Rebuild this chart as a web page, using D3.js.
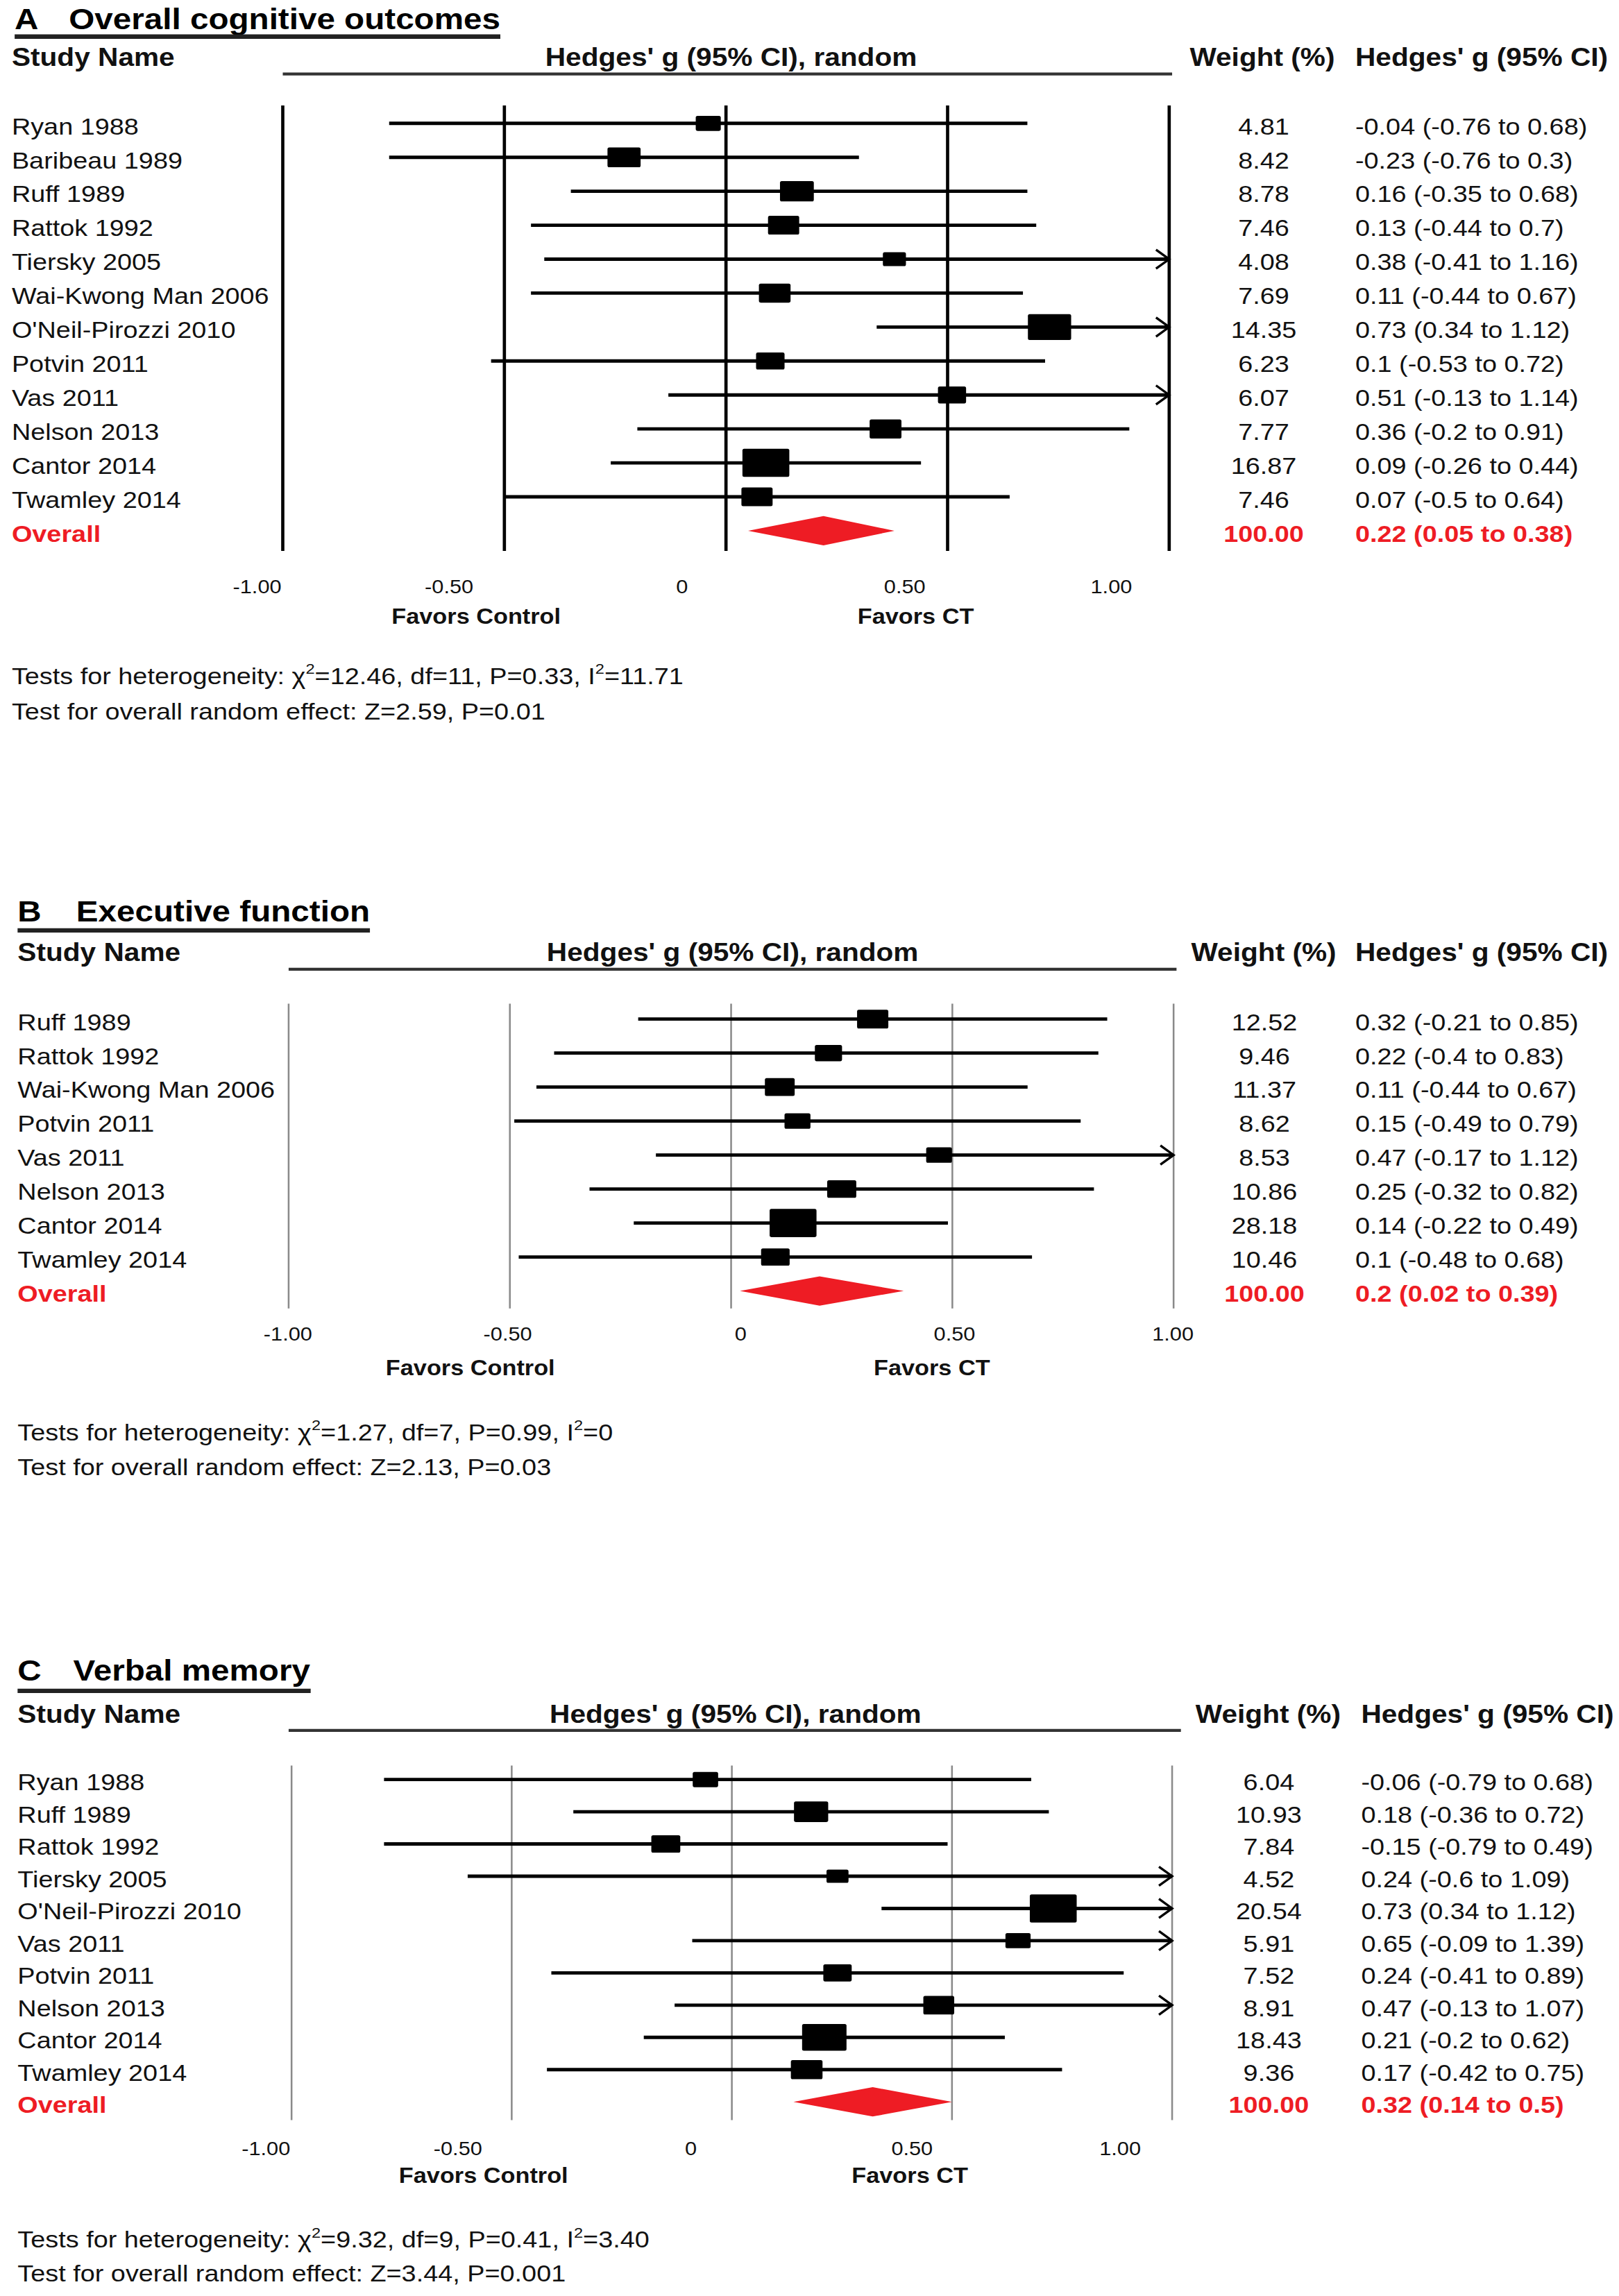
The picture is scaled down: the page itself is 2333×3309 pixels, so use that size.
<!DOCTYPE html>
<html><head><meta charset="utf-8">
<script src="https://cdn.jsdelivr.net/npm/d3@7"></script>
<style>html,body{margin:0;padding:0;background:#fff;} svg{display:block}</style>
</head><body>
<svg id="chart"></svg>
<script>
// ---------------- DATA ----------------
const tickValues = [-1, -0.5, 0, 0.5, 1];
const tickLabels = ["-1.00", "-0.50", "0", "0.50", "1.00"];

// Panel A: Overall cognitive outcomes
const studiesA = ["Ryan 1988","Baribeau 1989","Ruff 1989","Rattok 1992","Tiersky 2005","Wai-Kwong Man 2006","O'Neil-Pirozzi 2010","Potvin 2011","Vas 2011","Nelson 2013","Cantor 2014","Twamley 2014"];
const weightsA = [4.81, 8.42, 8.78, 7.46, 4.08, 7.69, 14.35, 6.23, 6.07, 7.77, 16.87, 7.46];
const gA  = [-0.04, -0.23, 0.16, 0.13, 0.38, 0.11, 0.73, 0.1, 0.51, 0.36, 0.09, 0.07];
const loA = [-0.76, -0.76, -0.35, -0.44, -0.41, -0.44, 0.34, -0.53, -0.13, -0.2, -0.26, -0.5];
const hiA = [0.68, 0.3, 0.68, 0.7, 1.16, 0.67, 1.12, 0.72, 1.14, 0.91, 0.44, 0.64];
const overallA = [100.00, 0.22, 0.05, 0.38];   // weight, g, lo, hi
const hetA = ["12.46", "11", "0.33", "11.71"]; // chi2, df, P, I2
const testA = ["2.59", "0.01"];                // Z, P

// Panel B: Executive function
const studiesB = ["Ruff 1989","Rattok 1992","Wai-Kwong Man 2006","Potvin 2011","Vas 2011","Nelson 2013","Cantor 2014","Twamley 2014"];
const weightsB = [12.52, 9.46, 11.37, 8.62, 8.53, 10.86, 28.18, 10.46];
const gB  = [0.32, 0.22, 0.11, 0.15, 0.47, 0.25, 0.14, 0.1];
const loB = [-0.21, -0.4, -0.44, -0.49, -0.17, -0.32, -0.22, -0.48];
const hiB = [0.85, 0.83, 0.67, 0.79, 1.12, 0.82, 0.49, 0.68];
const overallB = [100.00, 0.2, 0.02, 0.39];
const hetB = ["1.27", "7", "0.99", "0"];
const testB = ["2.13", "0.03"];

// Panel C: Verbal memory
const studiesC = ["Ryan 1988","Ruff 1989","Rattok 1992","Tiersky 2005","O'Neil-Pirozzi 2010","Vas 2011","Potvin 2011","Nelson 2013","Cantor 2014","Twamley 2014"];
const weightsC = [6.04, 10.93, 7.84, 4.52, 20.54, 5.91, 7.52, 8.91, 18.43, 9.36];
const gC  = [-0.06, 0.18, -0.15, 0.24, 0.73, 0.65, 0.24, 0.47, 0.21, 0.17];
const loC = [-0.79, -0.36, -0.79, -0.6, 0.34, -0.09, -0.41, -0.13, -0.2, -0.42];
const hiC = [0.68, 0.72, 0.49, 1.09, 1.12, 1.39, 0.89, 1.07, 0.62, 0.75];
const overallC = [100.00, 0.32, 0.14, 0.5];
const hetC = ["9.32", "9", "0.41", "3.40"];
const testC = ["3.44", "0.001"];

// ---------------- LAYOUT ----------------
const W = 1105, H = 1567;
const FONT = "'Liberation Sans', Arial, Helvetica, sans-serif";
const RED = "#ee1c24";
const INK = "#111";

const layoutA = {letter:"A", title:"Overall cognitive outcomes", lx:10, tx:47, titleY:20, ulY:25,
  nameX:8, headY:45, hcX:499, hlX0:193, hlX1:800, hlY:50.5, wHeadX:812, cHeadX:925,
  x0:193, x1:798, vTop:72, vBot:376, row0:84.2, step:23.17, wX:862.5, cX:925,
  tickY:405, tickPos:[175,306,465,617,758], favY:425.5, favC:325, favCT:625, hetY:[467,491],
  vStroke:"#000", vWidth:2.2};
const layoutB = {letter:"B", title:"Executive function", lx:12, tx:52, titleY:629, ulY:635,
  nameX:12, headY:656, hcX:500, hlX0:197, hlX1:803, hlY:661.5, wHeadX:813, cHeadX:925,
  x0:197, x1:801, vTop:685, vBot:893, row0:695.5, step:23.2, wX:863, cX:925,
  tickY:915, tickPos:[196,346,505,651,800], favY:938.5, favC:321, favCT:636, hetY:[983,1007],
  vStroke:"#8a8a8a", vWidth:1.2};
const layoutC = {letter:"C", title:"Verbal memory", lx:12, tx:50, titleY:1147, ulY:1154,
  nameX:12, headY:1176, hcX:502, hlX0:197, hlX1:806, hlY:1181, wHeadX:816, cHeadX:929,
  x0:199, x1:800, vTop:1205, vBot:1447, row0:1214.5, step:22, wX:866, cX:929,
  tickY:1471, tickPos:[181,312,471,622,764], favY:1490, favC:330, favCT:621, hetY:[1534,1557],
  vStroke:"#8a8a8a", vWidth:1.2};

const svg = d3.select("#chart")
  .attr("width", 2333).attr("height", 3309)
  .attr("viewBox", `0 0 ${W} ${H}`)
  .attr("preserveAspectRatio", "none");
svg.append("rect").attr("width", W).attr("height", H).attr("fill", "#fff");

function txt(g, x, y, s, o = {}) {
  const sx = o.sx || 1.12;
  return g.append("text")
    .attr("transform", `translate(${x},${y}) scale(${sx},1)`)
    .attr("font-family", FONT)
    .attr("font-size", o.size || 16)
    .attr("font-weight", o.bold ? "bold" : "normal")
    .attr("text-anchor", o.anchor || "start")
    .attr("fill", o.fill || INK)
    .text(s);
}

function fmtCI(g, lo, hi) { return `${g} (${lo} to ${hi})`; }

function drawPanel(L, names, weights, gs, los, his, overall, het, test) {
  const G = svg.append("g");
  const x = d3.scaleLinear().domain([-1, 1]).range([L.x0, L.x1]);
  const n = names.length;
  const y = d3.scaleLinear().domain([0, n]).range([L.row0, L.row0 + n * L.step]);
  const boxW = d3.scaleSqrt().domain([0, d3.max(weights)]).range([0, 32]);

  // Title
  const TS = 20.5, TSX = 1.1;
  txt(G, L.lx, L.titleY, L.letter, {bold:true, size:TS, sx:TSX, fill:"#000"});
  const tt = txt(G, L.tx, L.titleY, L.title, {bold:true, size:TS, sx:TSX, fill:"#000"});
  const tw = tt.node().getBBox().width * TSX;
  G.append("line").attr("x1", L.lx).attr("x2", L.tx + tw)
    .attr("y1", L.ulY).attr("y2", L.ulY)
    .attr("stroke", "#222").attr("stroke-width", 3);

  // Column headers
  txt(G, L.nameX, L.headY, "Study Name", {bold:true, size:17.5, sx:1.1});
  txt(G, L.hcX, L.headY, "Hedges' g (95% CI), random", {bold:true, size:17.5, sx:1.1, anchor:"middle"});
  txt(G, L.wHeadX, L.headY, "Weight (%)", {bold:true, size:17.5, sx:1.1});
  txt(G, L.cHeadX, L.headY, "Hedges' g (95% CI)", {bold:true, size:17.5, sx:1.1});
  G.append("line").attr("x1", L.hlX0).attr("x2", L.hlX1)
    .attr("y1", L.hlY).attr("y2", L.hlY)
    .attr("stroke", "#333").attr("stroke-width", 2);

  // Vertical reference lines
  G.append("g").selectAll("line").data(tickValues).join("line")
    .attr("x1", d => x(d)).attr("x2", d => x(d))
    .attr("y1", L.vTop).attr("y2", L.vBot)
    .attr("stroke", L.vStroke).attr("stroke-width", L.vWidth);

  // Study rows
  const rows = names.map((nm, i) => ({nm, w: weights[i], g: gs[i], lo: los[i], hi: his[i], i}));
  const R = G.append("g");
  rows.forEach(r => {
    const yc = y(r.i);
    const xa = x(Math.max(r.lo, -1)), xb = x(Math.min(r.hi, 1));
    R.append("line").attr("x1", xa).attr("x2", xb).attr("y1", yc).attr("y2", yc)
      .attr("stroke", "#000").attr("stroke-width", 2.3);
    if (r.hi > 1) {
      R.append("path")
        .attr("d", `M${x(1) - 9},${yc - 6.5}L${x(1)},${yc}L${x(1) - 9},${yc + 6.5}`)
        .attr("fill", "none").attr("stroke", "#000").attr("stroke-width", 1.6);
    }
    if (r.lo < -1) {
      R.append("path")
        .attr("d", `M${x(-1) + 9},${yc - 6.5}L${x(-1)},${yc}L${x(-1) + 9},${yc + 6.5}`)
        .attr("fill", "none").attr("stroke", "#000").attr("stroke-width", 1.6);
    }
    const bw = boxW(r.w), bh = bw * 0.6;
    R.append("rect").attr("x", x(r.g) - bw / 2).attr("y", yc - bh / 2)
      .attr("width", bw).attr("height", bh).attr("rx", 1.2).attr("fill", "#000");
    txt(R, L.nameX, yc + 7.5, r.nm);
    txt(R, L.wX, yc + 7.5, r.w.toFixed(2), {anchor:"middle"});
    txt(R, L.cX, yc + 7.5, fmtCI(r.g, r.lo, r.hi));
  });

  // Overall row
  const yo = y(n);
  const [ow, og, olo, ohi] = overall;
  G.append("path")
    .attr("d", `M${x(olo)},${yo}L${x(og)},${yo - 10}L${x(ohi)},${yo}L${x(og)},${yo + 10}Z`)
    .attr("fill", RED);
  txt(G, L.nameX, yo + 7.5, "Overall", {bold:true, fill:RED});
  txt(G, L.wX, yo + 7.5, ow.toFixed(2), {bold:true, fill:RED, anchor:"middle"});
  txt(G, L.cX, yo + 7.5, fmtCI(og, olo, ohi), {bold:true, fill:RED});

  // Tick labels (axis, printed slightly offset from the reference lines as in the original)
  const xl = d3.scaleLinear().domain(tickValues).range(L.tickPos);
  const ax = G.append("g").attr("transform", `translate(0,${L.tickY})`)
    .call(d3.axisBottom(xl).tickValues(tickValues).tickFormat((d, i) => tickLabels[i]).tickSize(0))
    .attr("font-family", FONT).attr("font-size", 13);
  ax.select(".domain").remove();
  ax.selectAll("text").attr("y", 0).attr("dy", 0).attr("fill", INK)
    .attr("text-anchor", "middle").attr("transform", "scale(1.12,1)");

  txt(G, L.favC, L.favY, "Favors Control", {bold:true, size:14.5, anchor:"middle"});
  txt(G, L.favCT, L.favY, "Favors CT", {bold:true, size:14.5, anchor:"middle"});

  // Heterogeneity text
  const h1 = G.append("text")
    .attr("transform", `translate(${L.nameX},${L.hetY[0]}) scale(1.12,1)`)
    .attr("font-family", FONT).attr("font-size", 16).attr("fill", INK);
  h1.append("tspan").text("Tests for heterogeneity: \u03C7");
  h1.append("tspan").attr("dy", -7).attr("font-size", 10).text("2");
  h1.append("tspan").attr("dy", 7).text(`=${het[0]}, df=${het[1]}, P=${het[2]}, I`);
  h1.append("tspan").attr("dy", -7).attr("font-size", 10).text("2");
  h1.append("tspan").attr("dy", 7).text(`=${het[3]}`);
  txt(G, L.nameX, L.hetY[1], `Test for overall random effect: Z=${test[0]}, P=${test[1]}`);
}

drawPanel(layoutA, studiesA, weightsA, gA, loA, hiA, overallA, hetA, testA);
drawPanel(layoutB, studiesB, weightsB, gB, loB, hiB, overallB, hetB, testB);
drawPanel(layoutC, studiesC, weightsC, gC, loC, hiC, overallC, hetC, testC);
</script>
</body></html>
